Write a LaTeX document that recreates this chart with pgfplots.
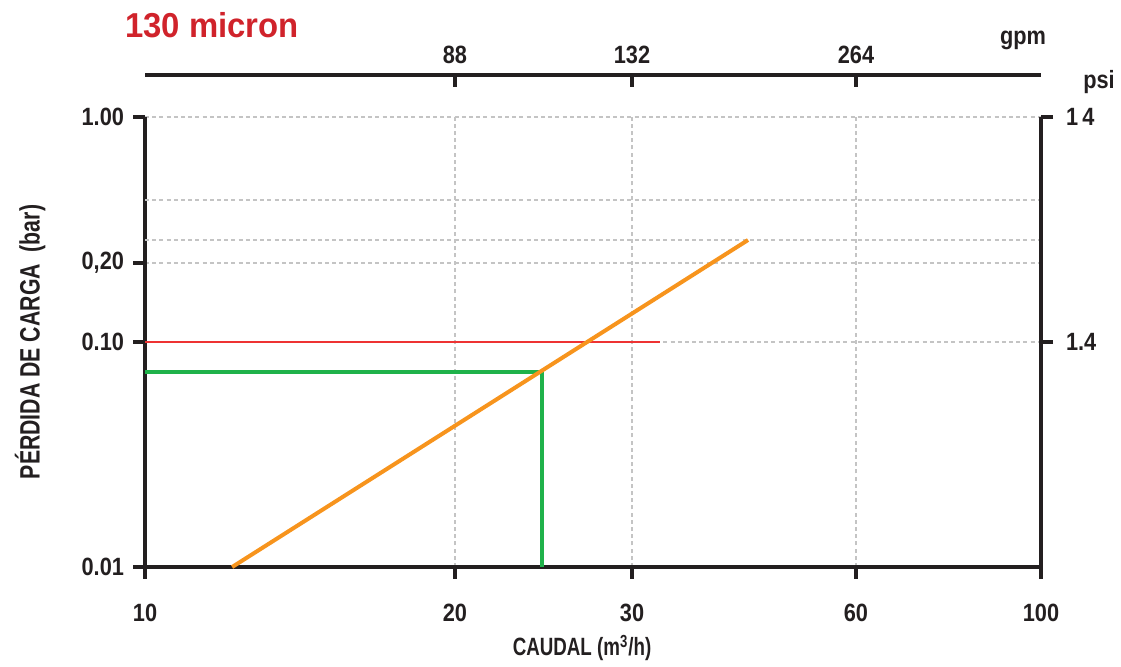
\documentclass[border=0pt]{standalone}
\usepackage{fontspec}
\setmainfont{Liberation Sans Bold}[FakeStretch=0.87]
\newfontfamily\titlefont{Liberation Sans Bold}[FakeStretch=0.95]
\newfontfamily\xlabfont{Liberation Sans Bold}[FakeStretch=0.75]
\newfontfamily\ylabfont{Liberation Sans Bold}[FakeStretch=0.76]
\usepackage{pgfplots}
\pgfplotsset{compat=1.18}
\definecolor{orangeL}{HTML}{F7941D}
\definecolor{greenL}{HTML}{1FB24A}
\definecolor{redL}{HTML}{EE3333}
\definecolor{titleRed}{HTML}{D0232B}
\definecolor{gridG}{HTML}{C4C4C4}
\definecolor{axisK}{HTML}{231F20}
\pgfplotsset{
  myaxis/.style={
    at={(0pt,0pt)}, anchor=south west, scale only axis, width=448pt,
    axis line style={line width=1.8pt, draw=axisK, -},
    major tick length=6pt,
    every major tick/.append style={line width=1.8pt, draw=axisK},
    every minor tick/.append style={draw=none},
    ticklabel style={font=\fontsize{12.5}{14}\selectfont, text=axisK},
  }
}
\begin{document}
\begin{tikzpicture}
\useasboundingbox (-72.5pt,-49.5pt) rectangle (488pt,283.5pt);
% main axis
\begin{axis}[myaxis,
  height=225pt,
  xmode=log, ymode=log, xmin=10, xmax=100, ymin=0.01, ymax=1,
  axis x line*=bottom, axis y line*=left,
  tick align=outside,
  xtick={10,22.18,34.96,62.16,100}, xticklabels={10,20,30,60,100},
  ytick={0.01,0.1,0.2245,1}, yticklabels={0.01,0.10,{0,20},1.00},
  extra y ticks={0.2841,0.4279}, extra y tick labels={},
  extra y tick style={major tick length=0pt, grid=major},
  grid=major, grid style={gridG, line width=0.7pt, dash pattern=on 2pt off 1.6pt},
  xticklabel style={yshift=-9pt},
  yticklabel style={xshift=-1pt},
  clip=false,
]
\addplot[redL, line width=0.7pt] coordinates {(10,0.1) (37.56,0.1)};
\addplot[greenL, line width=2.3pt] coordinates {(10,0.0736) (27.74,0.0736) (27.74,0.01)};
\addplot[orangeL, line width=2pt] coordinates {(12.51,0.01) (47.1,0.284)};
\end{axis}
% right psi axis
\begin{axis}[myaxis,
  height=225pt,
  xmode=log, ymode=log, xmin=10, xmax=100, ymin=0.01, ymax=1,
  axis y line*=right, axis x line=none,
  tick align=outside,
  ytick={0.1,1}, yticklabels={1.4,{1\,4}}, xtick=\empty,
  yticklabel style={xshift=3pt},
]
\end{axis}
% top gpm axis
\begin{axis}[myaxis,
  height=246pt,
  xmode=log, xmin=10, xmax=100, ymin=0, ymax=1,
  axis x line*=top, axis y line=none,
  tick align=inside,
  xtick={22.18,34.96,62.16}, xticklabels={88,132,264},
  ytick=\empty,
  xticklabel style={yshift=2pt},
]
\end{axis}
\node[anchor=west, inner sep=0pt, font=\titlefont\fontsize{17.3}{20}\selectfont, text=titleRed] at (-10pt,271pt) {130 micron};
\node[font=\fontsize{12.5}{14}\selectfont, text=axisK] at (439pt,263.5pt) {gpm};
\node[font=\fontsize{12.5}{14}\selectfont, text=axisK] at (477pt,242.5pt) {psi};
\node[font=\xlabfont\fontsize{12.5}{14}\selectfont, text=axisK] at (218.5pt,-40.5pt) {CAUDAL (m\textsuperscript{3}/h)};
\node[rotate=90, font=\ylabfont\fontsize{14}{16}\selectfont, text=axisK] at (-57.5pt,112.5pt) {PÉRDIDA DE CARGA\ \ (bar)};
\end{tikzpicture}
\end{document}
